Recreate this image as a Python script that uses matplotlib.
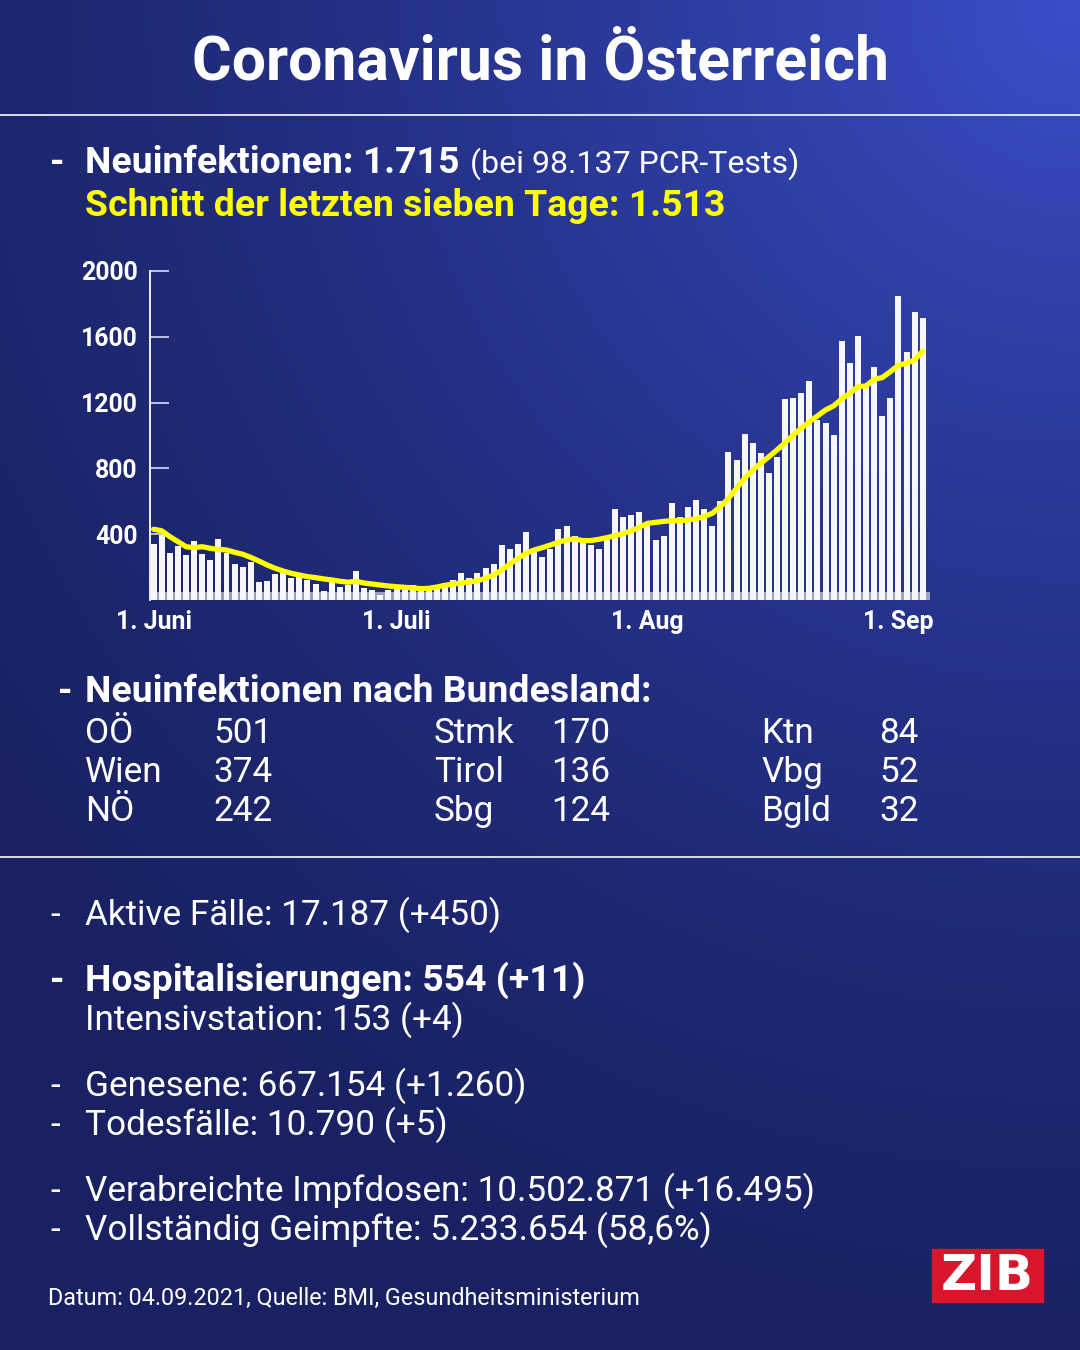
import numpy as np
import matplotlib
matplotlib.use("Agg")
import matplotlib.pyplot as plt
from matplotlib.patches import Rectangle

# daily new infections, 1 June - 4 Sep 2021
cases_june = [339, 395, 284, 330, 272, 361, 280, 243, 369, 284, 217, 203, 233, 111, 117,
              156, 162, 132, 140, 122, 97, 57, 111, 81, 91, 176, 71, 61, 30, 61]
cases_july = [71, 61, 91, 62, 58, 80, 105, 122, 166, 132, 162, 193, 219, 334, 308, 340,
              411, 300, 263, 308, 432, 452, 391, 350, 334, 310, 365, 551, 503, 515, 537]
cases_aug = [466, 365, 389, 592, 503, 564, 608, 553, 452, 602, 902, 851, 1007, 953, 892,
             774, 868, 1222, 1226, 1258, 1329, 1094, 1076, 1003, 1575, 1439, 1603, 1307,
             1415, 1121, 1230]
cases_sep = [1848, 1510, 1753, 1715]

# 7-day average (yellow line)
avg_june = [430, 421, 385, 355, 324, 318, 324, 314, 308, 304, 290, 278, 259, 237, 213,
            193, 176, 162, 152, 142, 136, 128, 122, 114, 108, 114, 103, 97, 91, 85]
avg_july = [81, 77, 73, 69, 71, 79, 89, 97, 103, 109, 117, 132, 152, 182, 219, 253, 284,
            304, 318, 334, 351, 365, 371, 361, 361, 369, 379, 391, 405, 420, 442]
avg_aug = [466, 472, 478, 482, 482, 486, 494, 507, 527, 567, 618, 679, 740, 790, 831, 871,
           912, 956, 1003, 1044, 1084, 1119, 1155, 1180, 1222, 1257, 1297, 1301, 1342,
           1352, 1388]
avg_sep = [1427, 1439, 1459, 1513]

cases = cases_june + cases_july + cases_aug + cases_sep
avg7 = avg_june + avg_july + avg_aug + avg_sep
days = np.arange(len(cases))

month_ticks = [0, 30, 61, 92]
month_labels = ["1. Juni", "1. Juli", "1. Aug", "1. Sep"]
y_ticks = [400, 800, 1200, 1600, 2000]

laender = [("OÖ", 501), ("Wien", 374), ("NÖ", 242),
           ("Stmk", 170), ("Tirol", 136), ("Sbg", 124),
           ("Ktn", 84), ("Vbg", 52), ("Bgld", 32)]

FONT = ["Roboto", "DejaVu Sans"]
YELLOW = "#ffff00"

W, H = 1080, 1350
fig = plt.figure(figsize=(W / 100, H / 100), dpi=100)

# background with gradient
bg = fig.add_axes([0, 0, 1, 1])
bg.set_xlim(0, W)
bg.set_ylim(H, 0)
bg.axis("off")

gx, gy = np.meshgrid(np.linspace(0, 1, 216), np.linspace(0, 1, 270))
d = np.sqrt((1 - gx) ** 2 + (gy * 1.25) ** 2)
w = np.clip(1 - d / 1.35, 0, 1) ** 1.6
dark = np.array([0.10, 0.13, 0.39])
light = np.array([0.23, 0.31, 0.79])
img = dark[None, None, :] * (1 - w[..., None]) + light[None, None, :] * w[..., None]
bg.imshow(img, extent=[0, W, H, 0], aspect="auto", interpolation="bilinear", zorder=0)

# separators
bg.plot([0, W], [115, 115], color="white", lw=1.3, alpha=0.9)
bg.plot([0, W], [857, 857], color="white", lw=1.3, alpha=0.9)

renderer = fig.canvas.get_renderer()


def fit_size(s, width, weight="normal"):
    # font size so that string s is about `width` pixels wide
    t = bg.text(0, 0, s, fontsize=100, fontweight=weight, family=FONT)
    wpx = t.get_window_extent(renderer).width
    t.remove()
    return 100 * width / wpx


TITLE = fit_size("Coronavirus in Österreich", 698, "bold")
BOLD = fit_size("Schnitt der letzten sieben Tage: 1.513", 640, "bold")
REG = fit_size("Vollständig Geimpfte: 5.233.654 (58,6%)", 626)
PAREN = fit_size("(bei 98.137 PCR-Tests)", 330)
SMALL = fit_size("Datum: 04.09.2021, Quelle: BMI, Gesundheitsministerium", 590)
TICK = fit_size("2000", 57, "bold")


def put(x, y, s, size=None, weight="normal", color="white", **kw):
    if size is None:
        size = BOLD if weight == "bold" else REG
    return bg.text(x, y, s, fontsize=size, fontweight=weight, color=color,
                   family=FONT, va="baseline", **kw)


def put_after(t, s, gap=0, **kw):
    bb = t.get_window_extent(renderer)
    x = bg.transData.inverted().transform((bb.x1, bb.y0))[0]
    return put(x + gap, t.get_position()[1], s, **kw)


# title
put(540, 80, "Coronavirus in Österreich", size=TITLE, weight="bold", ha="center")

# header
put(50, 173, "-", weight="bold")
t = put(85, 173, "Neuinfektionen: 1.715", weight="bold")
put_after(t, "(bei 98.137 PCR-Tests)", gap=11, size=PAREN)
put(85, 216, "Schnitt der letzten sieben Tage: 1.513", weight="bold", color=YELLOW)

# Bundesland table
put(58, 702, "-", weight="bold")
put(85, 702, "Neuinfektionen nach Bundesland:", weight="bold")
col_name = [85, 434, 761]
col_val = [213, 551, 879]
rows_y = [743, 782, 821]
for i, (name, val) in enumerate(laender):
    c, r = divmod(i, 3)
    put(col_name[c], rows_y[r], name)
    put(col_val[c], rows_y[r], str(val))

# lower list
put(50, 925, "-")
put(85, 925, "Aktive Fälle: 17.187 (+450)")
put(50, 991, "-", weight="bold")
put(85, 991, "Hospitalisierungen: 554 (+11)", weight="bold")
put(85, 1030, "Intensivstation: 153 (+4)")
put(50, 1096, "-")
put(85, 1096, "Genesene: 667.154 (+1.260)")
put(50, 1135, "-")
put(85, 1135, "Todesfälle: 10.790 (+5)")
put(50, 1201, "-")
put(85, 1201, "Verabreichte Impfdosen: 10.502.871 (+16.495)")
put(50, 1240, "-")
put(85, 1240, "Vollständig Geimpfte: 5.233.654 (58,6%)")

put(48, 1305, "Datum: 04.09.2021, Quelle: BMI, Gesundheitsministerium", size=SMALL)

# ZIB logo
bg.add_patch(Rectangle((932, 1249), 111, 53, color="#d9152b", zorder=2))
bg.text(987.5, 1276.5, "ZIB", fontsize=36, fontweight="heavy", color="white",
        family="DejaVu Sans", ha="center", va="center", zorder=3)

# chart
ax = fig.add_axes([150 / W, 1 - 600 / H, 780 / W, 329 / H])
ax.patch.set_alpha(0)
ax.set_xlim(-0.45, 95.9)
ax.set_ylim(0, 2000)
for side in ["top", "right", "bottom"]:
    ax.spines[side].set_visible(False)
ax.spines["left"].set_color("white")
ax.spines["left"].set_linewidth(1.3)

ax.axhspan(0, 48, xmin=0.004, color="white", alpha=0.55, lw=0, zorder=1)
ax.bar(days, cases, width=0.74, color="#f6f6fb", zorder=2)
ax.plot(days, avg7, color=YELLOW, lw=3.8, solid_capstyle="round", zorder=3)

ax.set_yticks(y_ticks)
ax.set_yticklabels([str(v) for v in y_ticks])
ax.set_xticks(month_ticks)
ax.set_xticklabels(month_labels)
ax.tick_params(axis="y", direction="in", length=14, width=1.3, color="#c9cdea",
               pad=9, labelsize=TICK, labelcolor="white")
ax.tick_params(axis="x", length=0, pad=7, labelsize=TICK, labelcolor="white")
for lab in ax.get_xticklabels() + ax.get_yticklabels():
    lab.set_fontweight("bold")
    lab.set_family(FONT)

fig.savefig("out.png", dpi=100)
